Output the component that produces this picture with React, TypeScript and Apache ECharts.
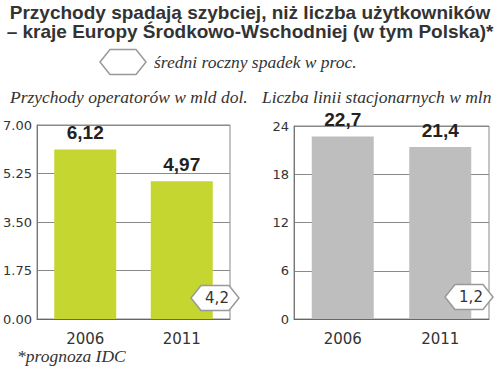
import React, { useEffect, useRef } from "react";
import * as echarts from "echarts";

const years = ["2006", "2011"];
const revenue = [6.12, 4.97];
const lines = [22.7, 21.4];
const revenueDecline = "4,2";
const linesDecline = "1,2";
const titleLines = [
  "Przychody spadają szybciej, niż liczba użytkowników",
  "– kraje Europy Środkowo-Wschodniej (w tym Polska)*",
];
const legendText = "średni roczny spadek w proc.";
const leftSubtitle = "Przychody operatorów w mld dol.";
const rightSubtitle = "Liczba linii stacjonarnych w mln";
const footnote = "*prognoza IDC";

const GREEN = "#c4d62f";
const GREY = "#bebebe";
const TEXT = "#333333";
const SERIF = "'Liberation Serif', serif";
const SANS = "'DejaVu Sans', sans-serif";

function hex(x0: number, x1: number, cy: number, h: number) {
  const d = 10;
  return [
    [x0, cy],
    [x0 + d, cy - h / 2],
    [x1 - d, cy - h / 2],
    [x1, cy],
    [x1 - d, cy + h / 2],
    [x0 + d, cy + h / 2],
  ];
}

const comma = (v: number, d: number) => v.toFixed(d).replace(".", ",");

export default function App() {
  const ref = useRef<HTMLDivElement>(null);
  useEffect(() => {
    document.body.style.margin = "0";
    const chart = echarts.init(ref.current!, null, { renderer: "svg" });
    const axisX = (gi: number) => ({
      type: "category" as const,
      gridIndex: gi,
      data: years,
      axisLine: { show: true, lineStyle: { color: "#666", width: 1 } },
      axisTick: { show: false },
      axisLabel: { fontFamily: SANS, fontSize: 15, lineHeight: 15, color: TEXT, margin: 12 },
    });
    const axisY = (gi: number, max: number, interval: number, dec: number) => ({
      type: "value" as const,
      gridIndex: gi,
      min: 0,
      max,
      interval,
      axisLine: { show: true, lineStyle: { color: "#777", width: 1 } },
      axisTick: { show: false },
      splitLine: { show: true, lineStyle: { color: "#8a8a8a", width: 1 } },
      axisLabel: {
        fontFamily: SANS,
        fontSize: 13,
        color: TEXT,
        margin: 5,
        formatter: (v: number) => v.toFixed(dec),
      },
    });
    const barLabel = (dec: number) => ({
      show: true,
      position: "top" as const,
      distance: 7,
      fontFamily: "'Liberation Sans', sans-serif",
      fontWeight: "bold" as const,
      fontSize: 19,
      color: "#222",
      formatter: (p: any) => comma(p.value, dec),
    });
    const title = (i: number, y: number) => ({
      type: "text",
      x: 250,
      y,
      style: {
        text: titleLines[i],
        font: `bold 19px 'Liberation Sans', sans-serif`,
        fill: TEXT,
        align: "center",
        verticalAlign: "middle",
      },
    });
    const serifText = (text: string, x: number, y: number) => ({
      type: "text",
      x,
      y,
      style: {
        text,
        font: `italic 17.5px ${SERIF}`,
        lineHeight: 16,
        fill: TEXT,
        verticalAlign: "middle",
      },
    });
    chart.setOption({
      animation: false,
      grid: [
        { left: 37, right: 270, top: 125, bottom: 48, show: true, borderColor: "#8a8a8a", borderWidth: 1 },
        { left: 294, right: 11, top: 126, bottom: 48, show: true, borderColor: "#8a8a8a", borderWidth: 1 },
      ],
      xAxis: [axisX(0), axisX(1)],
      yAxis: [axisY(0, 7, 1.75, 2), axisY(1, 24, 6, 0)],
      series: [
        {
          type: "bar",
          xAxisIndex: 0,
          yAxisIndex: 0,
          data: revenue,
          barWidth: 62,
          itemStyle: { color: GREEN },
          label: barLabel(2),
        },
        {
          type: "bar",
          xAxisIndex: 1,
          yAxisIndex: 1,
          data: lines,
          barWidth: 62,
          itemStyle: { color: GREY },
          label: barLabel(1),
        },
      ],
      graphic: [
        title(0, 12),
        title(1, 31),
        {
          type: "polygon",
          shape: { points: hex(100, 146, 62, 25) },
          style: { fill: "#fff", stroke: "#999", lineWidth: 1.5 },
        },
        serifText(legendText, 154, 62),
        serifText(leftSubtitle, 10, 97),
        serifText(rightSubtitle, 262, 97),
        {
          type: "polygon",
          z: 100,
          shape: { points: hex(191, 239, 298, 25) },
          style: { fill: "#fff", stroke: "#999", lineWidth: 1.5 },
        },
        {
          type: "text",
          z: 101,
          x: 217,
          y: 298,
          style: {
            text: revenueDecline,
            font: `15px ${SANS}`,
            fill: TEXT,
            align: "center",
            verticalAlign: "middle",
          },
        },
        {
          type: "polygon",
          z: 100,
          shape: { points: hex(445, 493, 297, 25) },
          style: { fill: "#fff", stroke: "#999", lineWidth: 1.5 },
        },
        {
          type: "text",
          z: 101,
          x: 471,
          y: 297,
          style: {
            text: linesDecline,
            font: `15px ${SANS}`,
            fill: TEXT,
            align: "center",
            verticalAlign: "middle",
          },
        },
        serifText(footnote, 17, 356),
      ],
    });
    return () => chart.dispose();
  }, []);
  return (
    <div
      ref={ref}
      style={{ position: "fixed", left: 0, top: 0, width: 500, height: 367, background: "#fff" }}
    />
  );
}
